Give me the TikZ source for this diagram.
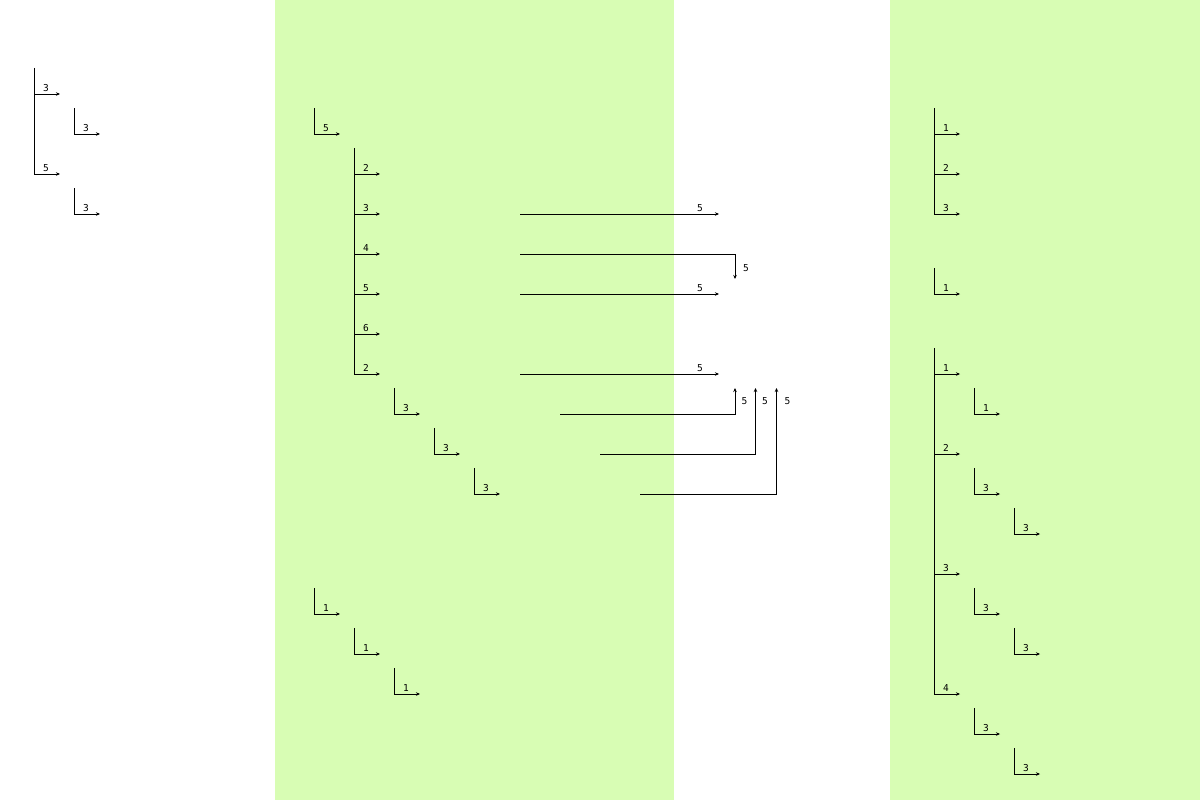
\documentclass[tikz,border=0pt]{standalone}
\usepackage{fontspec}
\setmonofont{DejaVu Sans Mono}
\usetikzlibrary{arrows.meta}
\definecolor{bandgreen}{RGB}{216,253,180}
\tikzset{
  edge/.style={line width=0.9pt,-{Stealth[length=4pt,width=3.5pt]}},
  lbl/.style={inner sep=0pt,font=\ttfamily\fontsize{9.5}{10}\selectfont},
}
\newcommand\leafnode[5]{%
  \coordinate (#1t) at (#2-0.6,#3);
  \coordinate (#1e) at (#2+25,#4);
  \draw[edge] (#1t) |- (#1e);
  \node[lbl] (#1l) at (#2+11,#4-6) {#5};
}
\begin{document}
\begin{tikzpicture}[x=1pt,y=-1pt]
\useasboundingbox (0,0) rectangle (1200,800);
\fill[bandgreen] (275,0) rectangle (674,800);
\fill[bandgreen] (890,0) rectangle (1200,800);
% panel 1
\leafnode{pa1}{35}{68}{94}{3}
\leafnode{pa2}{75}{108}{134}{3}
\leafnode{pa3}{35}{94}{174}{5}
\leafnode{pa4}{75}{188}{214}{3}
% panel 2
\leafnode{pb1}{315}{108}{134}{5}
\leafnode{pb2}{355}{148}{174}{2}
\leafnode{pb3}{355}{174}{214}{3}
\leafnode{pb4}{355}{214}{254}{4}
\leafnode{pb5}{355}{254}{294}{5}
\leafnode{pb6}{355}{294}{334}{6}
\leafnode{pb7}{355}{334}{374}{2}
\leafnode{pb8}{395}{388}{414}{3}
\leafnode{pb9}{435}{428}{454}{3}
\leafnode{pb10}{475}{468}{494}{3}
\leafnode{pb11}{315}{588}{614}{1}
\leafnode{pb12}{355}{628}{654}{1}
\leafnode{pb13}{395}{668}{694}{1}
% panel 4
\leafnode{pd1}{935}{108}{134}{1}
\leafnode{pd2}{935}{134}{174}{2}
\leafnode{pd3}{935}{174}{214}{3}
\leafnode{pd4}{935}{268}{294}{1}
\leafnode{pd5}{935}{348}{374}{1}
\leafnode{pd6}{975}{388}{414}{1}
\leafnode{pd7}{935}{374}{454}{2}
\leafnode{pd8}{975}{468}{494}{3}
\leafnode{pd9}{1015}{508}{534}{3}
\leafnode{pd10}{935}{454}{574}{3}
\leafnode{pd11}{975}{588}{614}{3}
\leafnode{pd12}{1015}{628}{654}{3}
\leafnode{pd13}{935}{574}{694}{4}
\leafnode{pd14}{975}{708}{734}{3}
\leafnode{pd15}{1015}{748}{774}{3}
% connectors
\coordinate (c1s) at (520,214); \coordinate (c1e) at (719,214);
\draw[edge] (c1s) -- (c1e);
\node[lbl] (c1l) at (700,208.5) {5};
\coordinate (c2s) at (520,254); \coordinate (c2e) at (735,279);
\draw[edge] (c2s) -| (c2e);
\node[lbl] (c2l) at (746,268.5) {5};
\coordinate (c3s) at (520,294); \coordinate (c3e) at (719,294);
\draw[edge] (c3s) -- (c3e);
\node[lbl] (c3l) at (700,288.5) {5};
\coordinate (c4s) at (520,374); \coordinate (c4e) at (719,374);
\draw[edge] (c4s) -- (c4e);
\node[lbl] (c4l) at (700,368.5) {5};
\coordinate (c5s) at (560,414); \coordinate (c5e) at (735,388);
\draw[edge] (c5s) -| (c5e);
\node[lbl] (c5l) at (744.5,401.5) {5};
\coordinate (c6s) at (600,454); \coordinate (c6e) at (755.5,388);
\draw[edge] (c6s) -| (c6e);
\node[lbl] (c6l) at (765,401.5) {5};
\coordinate (c7s) at (640,494); \coordinate (c7e) at (776.5,388);
\draw[edge] (c7s) -| (c7e);
\node[lbl] (c7l) at (787.5,401.5) {5};
\end{tikzpicture}
\end{document}
